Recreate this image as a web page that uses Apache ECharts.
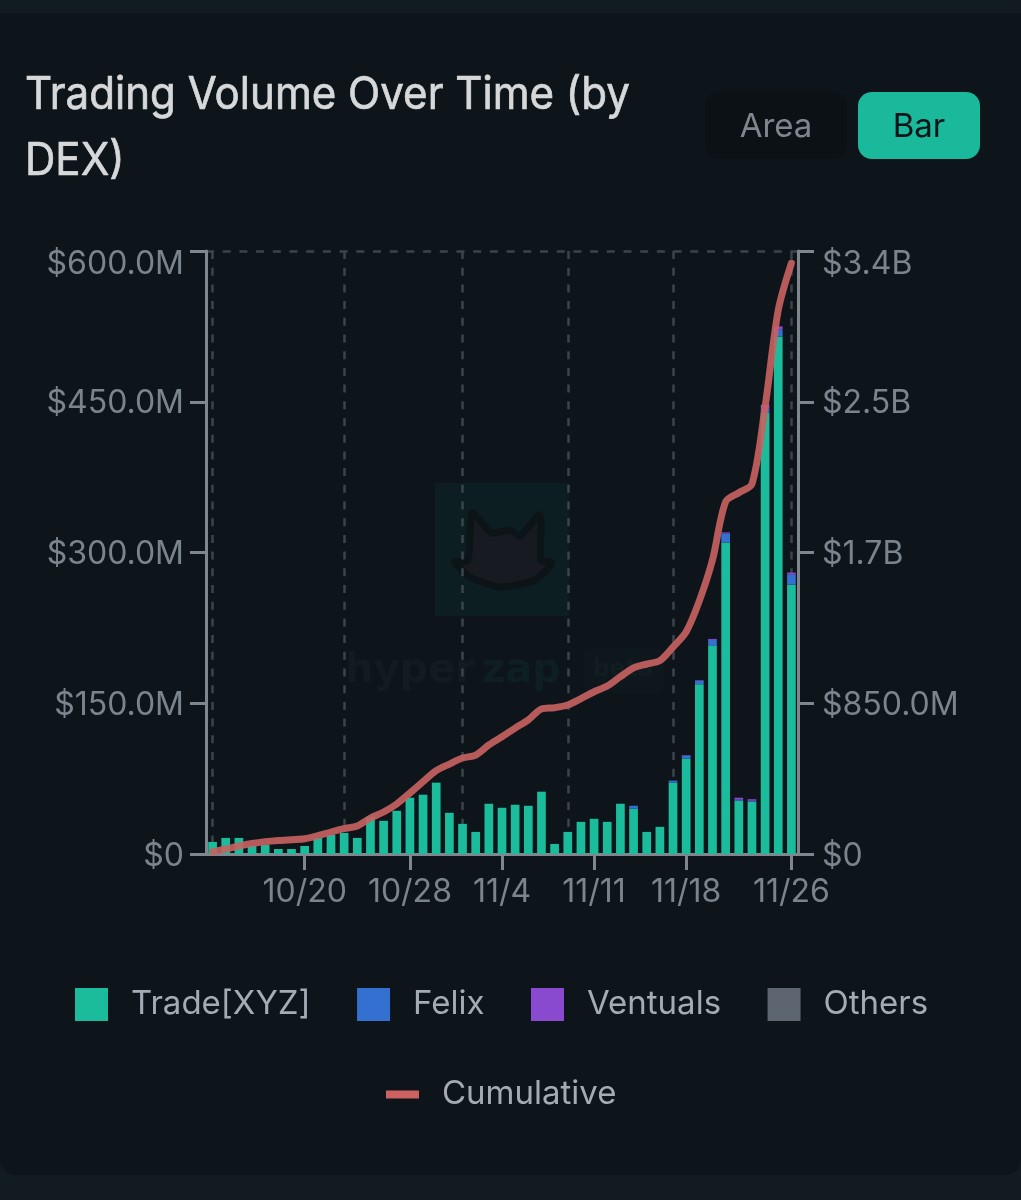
<!DOCTYPE html>
<html>
<head>
<meta charset="utf-8">
<title>Trading Volume Over Time (by DEX)</title>
<script src="https://cdn.jsdelivr.net/npm/echarts@6/dist/echarts.min.js"></script>
<style>
html, body { margin: 0; padding: 0; background: #111b20; }
#chart { width: 1021px; height: 1200px; }
</style>
</head>
<body>
<div id="chart"></div>
<script>
const categories = ['10/13','10/14','10/15','10/16','10/17','10/18','10/19','10/20','10/21','10/22','10/23','10/24','10/25','10/26','10/27','10/28','10/29','10/30','10/31','11/1','11/2','11/3','11/4','11/5','11/6','11/7','11/8','11/9','11/10','11/11','11/12','11/13','11/14','11/15','11/16','11/17','11/18','11/19','11/20','11/21','11/22','11/23','11/24','11/25','11/26'];

// values in $M
const tradeXyz = [12,16,16,8,9,5,5,8,16,19,21,16,37,33,43,56,59,71,41,30,22,50,46,49,48,62,10,22,32,35,32,50,45,22,27,71,95,169,207,310,53,52,439,515,268];
const felix = [0,0,0,0,0,0,0,0,0,0,0,0,0,0,0,0,0,0,0,0,0,0,0,0,0,0,0,0,0,0,0,0,3,0,0,2,3,3.5,6,9,1,1,4,7,10];
const ventuals = [0,0,0,0,0,0,0,0,0,0,0,0,0,0,0,0,0,0,0,0,0,0,0,0,0,0,0,0,0,0,0,0,0,0,0,0,0.5,0.5,1,1,2,1.5,4,3,2];
const others = [0,0,0,0,0,0,0,0,0,0,0,0,0,0,0,0,0,0,0,0,0,0,0,0,0,0,0,0,0,0,0,0,0,0,0,0,0,0,0,0,0,0,0,0,0];
const cumulative = [12,28,45,59,69,76,81,86,103,124,143,158,203,237,282,344,408,470,507,541,558,615,661,710,756,818,825,840,876,915,947,1000,1049,1071,1090,1167,1253,1427,1658,1986,2037,2086,2522,3067,3332];

const xTickDates = ['10/20','10/28','11/4','11/11','11/18','11/26'];
const gridLineDates = ['10/13','10/23','11/1','11/9','11/17','11/26'];
const leftTicks = {0:'$0',150:'$150.0M',300:'$300.0M',450:'$450.0M',600:'$600.0M'};
const rightTicks = {0:'$0',850:'$850.0M',1700:'$1.7B',2550:'$2.5B',3400:'$3.4B'};

const FONT = 'Inter';
const AXIS_GREY = '#7f868d';
const LABEL_GREY = '#7b848b';
const DASH_GREY = '#3a444b';

let chart = echarts.init(document.getElementById('chart'), null, {renderer: 'canvas'});

function barSeries(name, data, color) {
    return {name: name, type: 'bar', stack: 'dex', data: data, barWidth: 8.7, itemStyle: {color: color}};
}

function yAxisStyle(ticks, top, margin, extra) {
    return Object.assign({
        type: 'value',
        min: 0,
        axisLine: {show: true, lineStyle: {color: AXIS_GREY, width: 3}},
        axisTick: {show: true, length: 16, lineStyle: {color: AXIS_GREY, width: 3}},
        axisLabel: {
            color: LABEL_GREY,
            fontFamily: FONT,
            fontSize: 32,
            margin: margin,
            verticalAlign: 'top',
            lineHeight: 4,
            // the top label sits under its tick, the others on it
            formatter: v => v === top ? '{top|' + ticks[v] + '}' : ticks[v],
            rich: {top: {lineHeight: 26, fontFamily: FONT, fontSize: 32, color: LABEL_GREY}}
        }
    }, extra);
}

let option = {
    backgroundColor: '#111b20',
    animation: false,
    grid: {left: 206, right: 223, top: 251, height: 603, containLabel: false},
    legend: [
        {
            data: ['Trade[XYZ]', 'Felix', 'Ventuals', 'Others'],
            left: 75,
            top: 988,
            padding: 0,
            itemWidth: 33,
            itemHeight: 33,
            itemGap: 46.5,
            icon: 'rect',
            selectedMode: false,
            textStyle: {color: '#a4abb2', fontFamily: FONT, fontSize: 33, padding: [8, 0, 0, 18]}
        },
        {
            data: ['Cumulative'],
            left: 386,
            top: 1078,
            padding: 0,
            itemWidth: 33,
            itemHeight: 8,
            icon: 'rect',
            selectedMode: false,
            itemStyle: {color: '#cd6161'},
            textStyle: {color: '#a4abb2', fontFamily: FONT, fontSize: 33, padding: [8, 0, 0, 18]}
        }
    ],
    xAxis: {
        type: 'category',
        data: categories,
        boundaryGap: true,
        axisLine: {show: true, lineStyle: {color: AXIS_GREY, width: 3}},
        axisTick: {
            show: true,
            alignWithLabel: true,
            length: 16,
            interval: (i, v) => xTickDates.includes(v),
            lineStyle: {color: AXIS_GREY, width: 3}
        },
        axisLabel: {
            color: LABEL_GREY,
            fontFamily: FONT,
            fontSize: 32,
            margin: 22,
            hideOverlap: false,
            interval: (i, v) => xTickDates.includes(v)
        },
        splitLine: {
            show: true,
            alignWithLabel: true,
            interval: (i, v) => gridLineDates.includes(v),
            lineStyle: {color: DASH_GREY, width: 2.5, type: [8, 8.7]}
        }
    },
    yAxis: [
        yAxisStyle(leftTicks, 600, 22, {
            max: 600,
            interval: 150,
            position: 'left',
            // only the top line of the grid is drawn
            splitLine: {show: true, lineStyle: {color: ['transparent', 'transparent', 'transparent', 'transparent', DASH_GREY], width: 2.5, type: [8, 8.7]}}
        }),
        yAxisStyle(rightTicks, 3400, 24, {
            max: 3400,
            interval: 850,
            position: 'right',
            splitLine: {show: false}
        })
    ],
    series: [
        barSeries('Trade[XYZ]', tradeXyz, '#1abc9c'),
        barSeries('Felix', felix, '#3370d0'),
        barSeries('Ventuals', ventuals, '#8a4ad0'),
        barSeries('Others', others, '#5d6570'),
        {
            name: 'Cumulative',
            type: 'line',
            yAxisIndex: 1,
            data: cumulative,
            smooth: 0.3,
            showSymbol: false,
            symbol: 'none',
            z: 5,
            itemStyle: {color: '#cd6161'},
            lineStyle: {color: '#c96262', width: 7, opacity: 0.9, cap: 'round'}
        }
    ],
    graphic: [
        // card behind everything
        {type: 'rect', z: -100, shape: {x: 0, y: 13, width: 1021, height: 1162, r: [0, 0, 16, 16]}, style: {fill: '#0d151b'}, silent: true},
        // title
        {type: 'text', z: 10, x: 25, y: 73, scaleX: 0.935, style: {text: 'Trading Volume Over Time (by', fill: '#d6d8d9', stroke: '#d6d8d9', lineWidth: 0.7, font: '45px Inter'}},
        {type: 'text', z: 10, x: 25, y: 139, scaleX: 0.935, style: {text: 'DEX)', fill: '#d6d8d9', stroke: '#d6d8d9', lineWidth: 0.7, font: '45px Inter'}},
        // buttons
        {type: 'rect', z: 10, shape: {x: 705, y: 92, width: 142, height: 67, r: 14}, style: {fill: '#0b1115'}},
        {type: 'text', z: 11, x: 776, y: 127, style: {text: 'Area', fill: '#80868e', font: '33px Inter', align: 'center', verticalAlign: 'middle'}},
        {type: 'rect', z: 10, shape: {x: 858, y: 92, width: 122, height: 67, r: 14}, style: {fill: '#1ab99c'}},
        {type: 'text', z: 11, x: 919, y: 127, style: {text: 'Bar', fill: '#0a1419', font: '33px Inter', align: 'center', verticalAlign: 'middle'}},
        // watermark
        {type: 'rect', z: -50, shape: {x: 435, y: 483, width: 134, height: 133}, style: {fill: '#0c1e21'}},
        {type: 'polygon', z: -49, shape: {smooth: 0.2, points: [[472,513],[492,533],[510,530],[520,536],[540,515],[541,560],[552,563],[535,580],[500,587],[470,577],[455,562],[468,560]]}, style: {fill: '#171b21', stroke: '#0c1418', lineWidth: 7, lineJoin: 'round'}},
        {type: 'text', z: -49, x: 345, y: 672, style: {text: 'hyper', fill: '#131b21', font: 'bold 40px "DejaVu Sans"', verticalAlign: 'middle'}},
        {type: 'text', z: -49, x: 482, y: 672, style: {text: 'zap', fill: '#0e1f23', font: 'bold 40px "DejaVu Sans"', verticalAlign: 'middle'}},
        {type: 'rect', z: -49, shape: {x: 583, y: 648, width: 81, height: 45, r: 8}, style: {fill: '#0e171c'}},
        {type: 'text', z: -48, x: 623, y: 670, style: {text: 'beta', fill: '#111d20', font: 'bold 24px "DejaVu Sans"', align: 'center', verticalAlign: 'middle'}}
    ]
};

chart.setOption(option);
</script>
</body>
</html>
